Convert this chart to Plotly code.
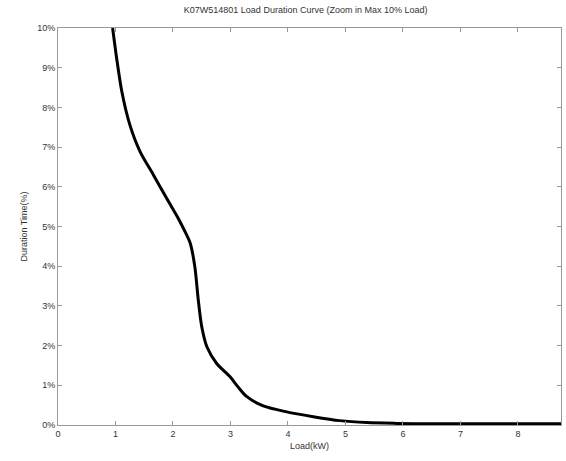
import plotly.graph_objects as go

load_kw = [0.95, 1.02, 1.11, 1.25, 1.43, 1.66, 1.89, 2.09, 2.21, 2.30, 2.38, 2.44, 2.50, 2.59, 2.76, 2.99, 3.12, 3.28, 3.57, 3.98, 4.44, 4.90, 5.37, 5.89, 6.5, 7.2, 8.0, 8.75]
duration_pct = [10.0, 9.24, 8.40, 7.56, 6.88, 6.30, 5.71, 5.21, 4.87, 4.58, 3.99, 3.15, 2.48, 1.97, 1.55, 1.22, 0.98, 0.72, 0.48, 0.33, 0.21, 0.11, 0.06, 0.04, 0.03, 0.03, 0.03, 0.03]

x_ticks = [0, 1, 2, 3, 4, 5, 6, 7, 8]
y_ticks = list(range(0, 11))
y_labels = [f"{v}%" for v in y_ticks]

title_text = "K07W514801 Load Duration Curve (Zoom in Max 10% Load)"
x_title = "Load(kW)"
y_title = "Duration Time(%)"

fig = go.Figure()
fig.add_trace(go.Scatter(
    x=load_kw, y=duration_pct, mode="lines",
    line=dict(color="black", width=3, shape="spline", smoothing=0.8),
    showlegend=False, hoverinfo="skip"))

font = dict(family="Liberation Sans, Arial, sans-serif", size=9, color="#333333")
fig.update_layout(
    width=566, height=461,
    margin=dict(l=58, r=5, t=28, b=36),
    paper_bgcolor="white", plot_bgcolor="white",
    font=font,
    title=dict(text=title_text, x=0.54, xanchor="center", y=0.985, yanchor="top",
               font=dict(family="Liberation Sans, Arial, sans-serif", size=9, color="#333333")),
)
fig.update_xaxes(range=[0, 8.75], tickvals=x_ticks, ticks="inside", ticklen=4,
                 tickcolor="#999999", showline=True, linecolor="#999999", linewidth=1,
                 mirror="ticks", showgrid=False, zeroline=False,
                 title=dict(text=x_title, standoff=4, font=font), tickfont=font)
fig.update_yaxes(range=[0, 10], tickvals=y_ticks, ticktext=y_labels, ticks="inside", ticklen=4,
                 tickcolor="#999999", showline=True, linecolor="#999999", linewidth=1,
                 mirror="ticks", showgrid=False, zeroline=False,
                 title=dict(text=y_title, standoff=8, font=font), tickfont=font)

fig.write_html("out.html")
